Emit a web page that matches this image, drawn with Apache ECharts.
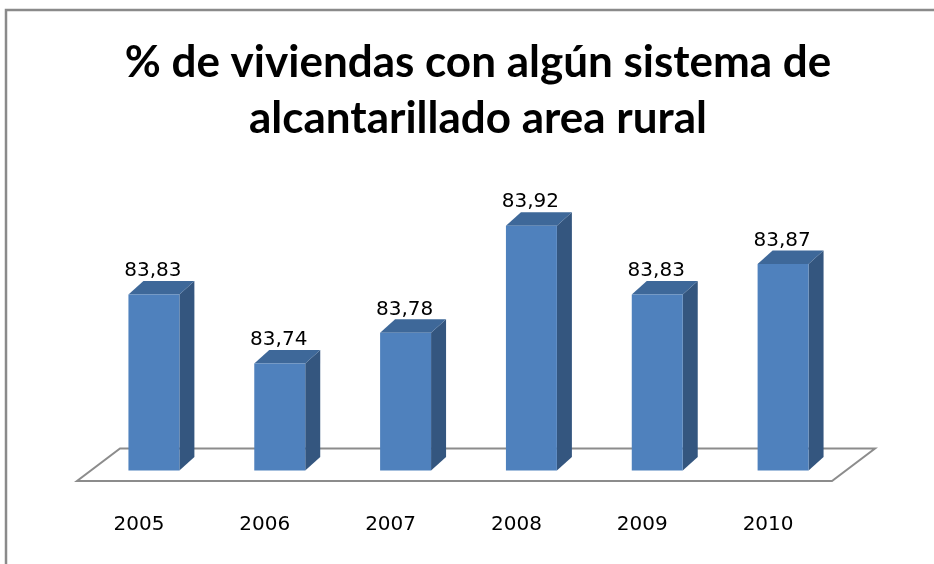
<!DOCTYPE html>
<html>
<head>
<meta charset="utf-8">
<script src="https://cdn.jsdelivr.net/npm/echarts@6/dist/echarts.min.js"></script>
<style>
  html, body { margin: 0; padding: 0; background: #ffffff; }
  #chart { width: 934px; height: 564px; }
</style>
</head>
<body>
<div id="chart"></div>
<script>
// Share of rural dwellings with some kind of sewerage system, by year
const years = ['2005', '2006', '2007', '2008', '2009', '2010'];
const values = [83.83, 83.74, 83.78, 83.92, 83.83, 83.87];
const axisMin = 83.6;
const axisMax = 84.0;

const titleText = '% de viviendas con algún sistema de\nalcantarillado area rural';

// pseudo-3D geometry (pixels)
const BAR_DX = 15, BAR_DY = -13.5;     // bar depth offset
const FLOOR_FRONT_DX = -14, FLOOR_FRONT_DY = 10.5; // front edge of floor relative to bar base
const FLOOR_DX = 43, FLOOR_DY = -32.5; // floor depth offset

const COLOR_FRONT = '#4f81bd';
const COLOR_SIDE = '#34567f';
const COLOR_TOP = '#3e6899';

function fmt(v) {
  return v.toFixed(2).replace('.', ',');
}

function renderFloor(params, api) {
  const cs = params.coordSys;
  const fy = cs.y + cs.height + FLOOR_FRONT_DY;
  const fl = cs.x + FLOOR_FRONT_DX;
  const fr = cs.x + cs.width + FLOOR_FRONT_DX;
  return {
    type: 'polygon',
    shape: {
      points: [
        [fl, fy], [fr, fy],
        [fr + FLOOR_DX, fy + FLOOR_DY], [fl + FLOOR_DX, fy + FLOOR_DY]
      ]
    },
    style: { fill: '#ffffff', stroke: '#8c8c8c', lineWidth: 2 }
  };
}

function renderBar(params, api) {
  const cat = api.value(0);
  const val = api.value(1);
  const top = api.coord([cat, val]);
  const base = api.coord([cat, axisMin]);
  const w = api.size([1, 0])[0] * 0.405;
  const x0 = top[0] - w / 2;
  const x1 = top[0] + w / 2;
  const yt = top[1];
  const yb = base[1];
  return {
    type: 'group',
    children: [
      {
        type: 'polygon',
        shape: { points: [[x1, yt], [x1 + BAR_DX, yt + BAR_DY], [x1 + BAR_DX, yb + BAR_DY], [x1, yb]] },
        style: { fill: COLOR_SIDE }
      },
      {
        type: 'polygon',
        shape: { points: [[x0, yt], [x0 + BAR_DX, yt + BAR_DY], [x1 + BAR_DX, yt + BAR_DY], [x1, yt]] },
        style: { fill: COLOR_TOP }
      },
      {
        type: 'rect',
        shape: { x: x0, y: yt, width: w, height: yb - yt },
        style: { fill: COLOR_FRONT }
      },
      {
        type: 'text',
        x: top[0] - 1,
        y: yt + BAR_DY - 10,
        style: {
          text: fmt(val),
          fill: '#000000',
          font: '20px "DejaVu Sans"',
          align: 'center',
          verticalAlign: 'middle'
        }
      }
    ]
  };
}

const chart = echarts.init(document.getElementById('chart'), null, { renderer: 'canvas' });

chart.setOption({
  backgroundColor: '#ffffff',
  animation: false,
  grid: { left: 91, right: 88, top: 164.5, bottom: 93.5 },
  xAxis: {
    type: 'category',
    data: years,
    axisLine: { show: false },
    axisTick: { show: false },
    axisLabel: {
      show: true,
      color: '#000000',
      fontFamily: 'DejaVu Sans',
      fontSize: 20,
      margin: 44,
      padding: [0, 30, 0, 0]
    }
  },
  yAxis: {
    type: 'value',
    min: axisMin,
    max: axisMax,
    show: false,
    splitLine: { show: false }
  },
  graphic: [
    {
      type: 'rect',
      shape: { x: 6, y: 10, width: 1000, height: 700 },
      style: { fill: 'none', stroke: '#8a8a8a', lineWidth: 2.5 },
      z: 0
    },
    {
      type: 'text',
      x: 478,
      y: 91,
      style: {
        text: titleText,
        fill: '#000000',
        font: 'bold 44px Lato',
        align: 'center',
        verticalAlign: 'middle',
        lineHeight: 56
      },
      z: 10
    }
  ],
  series: [
    {
      type: 'custom',
      renderItem: renderFloor,
      data: [[0, axisMin]],
      encode: { x: 0, y: 1 },
      z: 1,
      silent: true
    },
    {
      type: 'custom',
      renderItem: renderBar,
      data: values.map((v, i) => [i, v]),
      encode: { x: 0, y: 1 },
      z: 2
    }
  ]
});
</script>
</body>
</html>
